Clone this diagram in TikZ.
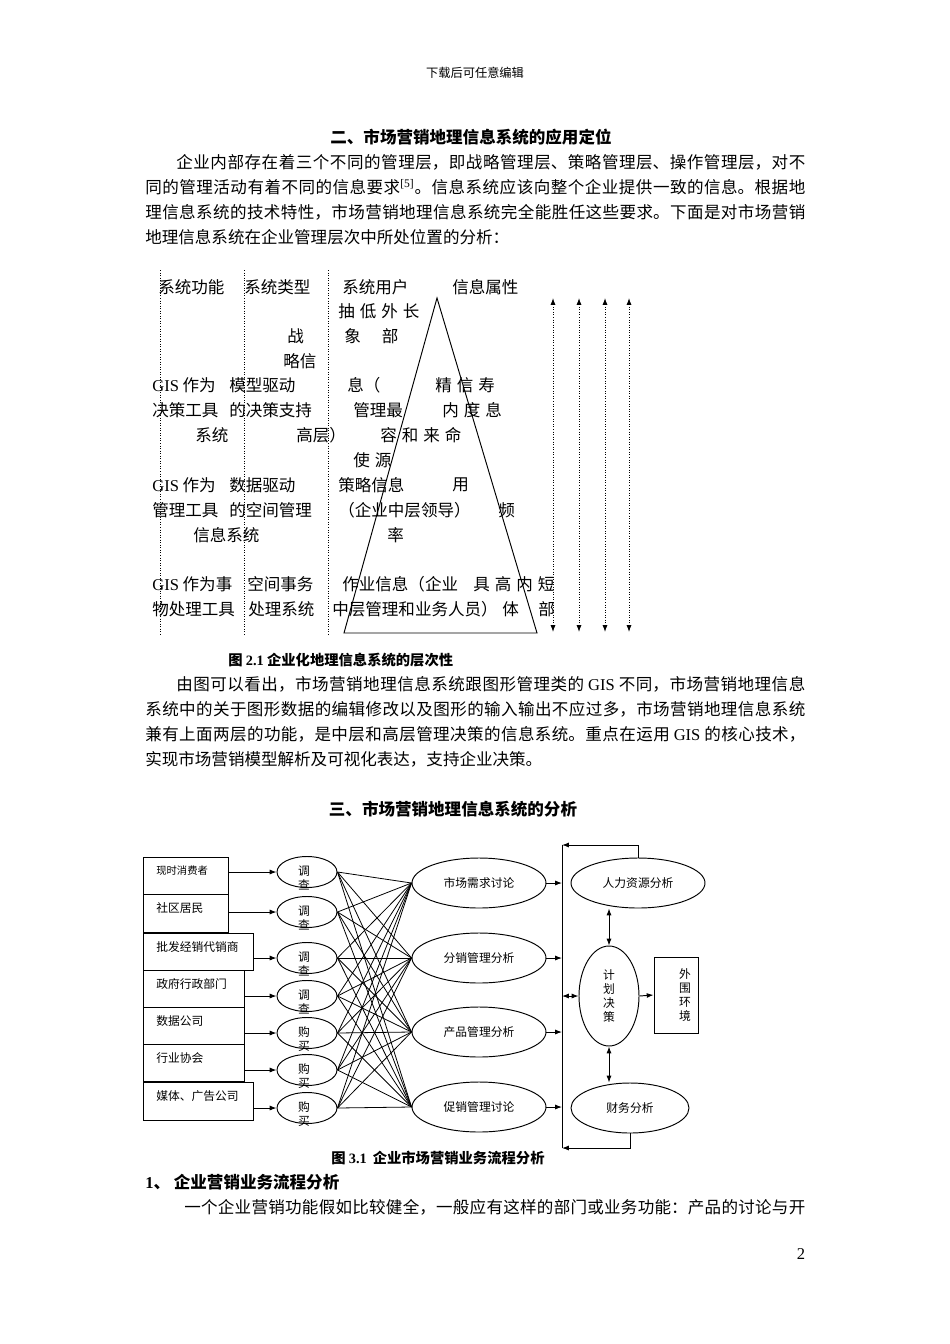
\documentclass[tikz,border=0pt]{standalone}
\usepackage{fontspec}
\setmainfont{Liberation Serif}
\newfontfamily\cjk{Noto Sans CJK SC}
\newfontfamily\lat{Liberation Serif}
\usepackage{tikz}
\usetikzlibrary{arrows.meta, positioning, shapes.geometric}
\XeTeXlinebreaklocale "zh"
\XeTeXlinebreakskip=0pt plus 2pt
\newlength{\px}
\setlength{\px}{0.221mm}
\newcommand{\gp}{\hspace{5\px}}
\tikzset{
    bodytext/.style={font=\cjk\fontsize{10.4}{12.5}\selectfont, inner sep=0pt, anchor=west},
    jline/.style={bodytext, text width=#1, align=justify, execute at begin node={\parindent=0pt\parfillskip=0pt\relax}},
    headtext/.style={font=\cjk\bfseries\fontsize{10.4}{12.5}\selectfont, inner sep=0pt},
    captext/.style={font=\cjk\bfseries\fontsize{9}{11}\selectfont, inner sep=0pt, anchor=west},
    septier/.style={densely dotted, line width=0.6pt},
    spanarrow/.style={{Latex[length=1.5mm,width=1.1mm]}-{Latex[length=1.5mm,width=1.1mm]}, densely dotted, line width=0.6pt},
    flowtext/.style={font=\cjk\fontsize{7.4}{8.8}\selectfont, inner sep=0pt, align=center},
    srcbox/.style={draw, line width=0.6pt, anchor=north west, inner sep=0pt},
    survey/.style={ellipse, draw, line width=0.6pt, minimum width=60\px, minimum height=31\px, inner sep=0pt},
    task/.style={ellipse, draw, line width=0.6pt, minimum width=134\px, minimum height=50\px, inner sep=0pt, flowtext},
    flow/.style={-{Latex[length=1.5mm,width=1.1mm]}, line width=0.6pt},
    flowboth/.style={{Latex[length=1.5mm,width=1.1mm]}-{Latex[length=1.5mm,width=1.1mm]}, line width=0.6pt},
    fanline/.style={line width=0.5pt}
}
\begin{document}
\begin{tikzpicture}[x=0.221mm,y=-0.221mm]
    \useasboundingbox (0,0) rectangle (950,1344);
    \fill[white] (0,0) rectangle (950,1344);

    % page header and first section
    \node[font=\cjk\fontsize{7.7}{9}\selectfont, inner sep=0pt] (hdr) at (475,73) {下载后可任意编辑};
    \node[headtext] (h1) at (471,137) {二、市场营销地理信息系统的应用定位};
    \node[jline=629\px] (a1) at (176,162) {企业内部存在着三个不同的管理层，即战略管理层、策略管理层、操作管理层，对不};
    \node[jline=660\px] (a2) at (145,187) {同的管理活动有着不同的信息要求\textsuperscript{\lat[5]}。信息系统应该向整个企业提供一致的信息。根据地};
    \node[jline=660\px] (a3) at (145,212) {理信息系统的技术特性，市场营销地理信息系统完全能胜任这些要求。下面是对市场营销};
    \node[bodytext] (a4) at (145,237) {地理信息系统在企业管理层次中所处位置的分析：};

    % tiers of the system (fig 2.1)
    \foreach \x in {160,244,328}
        \draw[septier] (\x,270) -- (\x,636);
    \draw[line width=0.6pt] (437,298) -- (344,633) -- (537,633) -- cycle;
    \foreach \x [count=\k] in {553,579,605,629} {
        \coordinate (up\k) at (\x,298);
        \coordinate (dn\k) at (\x,632);
        \draw[spanarrow] (up\k) -- (dn\k);
    }
    \foreach \x/\y/\t [count=\k] in {
        158/287/{系统功能}, 244/287/{系统类型}, 342/287/{系统用户}, 452/287/{信息属性},
        338/311/{抽\gp 低\gp 外\gp 长},
        287/336/{战}, 344/336/{象\hspace{21\px}部},
        283/361/{略信},
        152/385/{{\lat GIS} 作为}, 229/385/{模型驱动}, 347/385/{息（}, 435/385/{精\gp 信\gp 寿},
        152/410/{决策工具}, 229/410/{的决策支持}, 353/410/{管理最}, 442/410/{内\gp 度\gp 息},
        195/435/{系统}, 296/435/{高层）}, 380/435/{容\gp 和\gp 来\gp 命},
        353/460/{使\gp 源},
        152/485/{{\lat GIS} 作为}, 229/485/{数据驱动}, 338/485/{策略信息}, 452/485/{用},
        152/510/{管理工具}, 229/510/{的空间管理}, 338/510/{（企业中层领导）}, 498/510/{频},
        193/535/{信息系统}, 387/535/{率},
        152/584/{{\lat GIS} 作为事}, 247/584/{空间事务}, 342/584/{作业信息（企业}, 473/584/{具\gp 高\gp 内\gp 短},
        152/609/{物处理工具}, 248/609/{处理系统}, 332/609/{中层管理和业务人员）}, 502/609/{体}, 538/609/{部}}
        \node[bodytext] (p\k) at (\x,\y) {\t};
    \node[captext] (c1) at (228,660) {图 {\lat\bfseries 2.1} 企业化地理信息系统的层次性};

    % second paragraph and section
    \node[jline=629\px] (b1) at (176,684) {由图可以看出，市场营销地理信息系统跟图形管理类的 {\lat GIS} 不同，市场营销地理信息};
    \node[jline=660\px] (b2) at (145,709) {系统中的关于图形数据的编辑修改以及图形的输入输出不应过多，市场营销地理信息系统};
    \node[jline=660\px] (b3) at (145,734) {兼有上面两层的功能，是中层和高层管理决策的信息系统。重点在运用 {\lat GIS} 的核心技术，};
    \node[bodytext] (b4) at (145,759) {实现市场营销模型解析及可视化表达，支持企业决策。};
    \node[headtext] (h2) at (453,809) {三、市场营销地理信息系统的分析};

    % marketing flow (fig 3.1)
    \foreach \top/\h/\w/\txt [count=\i] in {857/37/85/{\fontsize{6.5}{8}\selectfont 现时消费者}, 894/38/85/社区居民, 933/37/110/批发经销代销商,
        970/37/101/政府行政部门, 1007/37/101/数据公司, 1044/37/101/行业协会, 1082/38/110/媒体、广告公司} {
        \node[srcbox, minimum width=\w\px, minimum height=\h\px] (src\i) at (143,\top) {};
        \node[flowtext, anchor=west] (srct\i) at ([shift={(13,14)}]src\i.north west) {\txt};
    }
    \foreach \y/\ta/\tb [count=\i] in {872/调/查, 912/调/查, 958/调/查, 996/调/查, 1033/购/买, 1070/购/买, 1108/购/买} {
        \node[survey] (s\i) at (307,\y) {};
        \node[flowtext] (st\i) at ([shift={(-3,6)}]s\i.center) {\ta\\\tb};
        \draw[flow] (s\i.west -| src\i.east) -- (s\i.west);
    }
    \node[task] (m1) at (479,883) {市场需求讨论};
    \node[task] (m2) at (479,958) {分销管理分析};
    \node[task] (m3) at (479,1032) {产品管理分析};
    \node[task] (m4) at (479,1107) {促销管理讨论};
    \foreach \i in {1,...,7}
        \foreach \j in {1,...,4}
            \draw[fanline] (s\i.east) -- (m\j.west);

    \coordinate (bustop) at (562,845);
    \coordinate (busbot) at (562,1148);
    \draw[line width=0.6pt] (bustop) -- (busbot);
    \foreach \j in {1,...,4}
        \draw[flow] (m\j.east) -- (m\j.east -| bustop);

    \node[task] (hr) at (638,883) {人力资源分析};
    \node[task, minimum width=118\px] (fin) at (630,1108) {财务分析};
    \node[task, minimum width=60\px, minimum height=100\px] (plan) at (609,996) {计\\划\\决\\策};
    \node[draw, line width=0.6pt, minimum width=44\px, minimum height=76\px, inner sep=0pt] (env) at (676,995) {};
    \node[flowtext] (envt) at ([shift={(9,0)}]env.center) {外\\围\\环\\境};

    \draw[flow] (hr.north) |- (bustop);
    \draw[flow] (fin.south) |- (busbot);
    \draw[flowboth] (plan.west) -- (plan.west -| bustop);
    \draw[flowboth] (plan.north) -- (plan.north |- hr.south);
    \draw[flowboth] (plan.south) -- (plan.south |- fin.north);
    \draw[flow] (plan.east) -- (env.west);
    \node[captext] (c2) at (331,1158) {图 {\lat\bfseries 3.1}\hspace{6\px}企业市场营销业务流程分析};

    % next section
    \node[headtext, anchor=west] (h3) at (145,1182) {{\lat\bfseries 1}、 企业营销业务流程分析};
    \node[jline=621\px] (d1) at (184,1207) {一个企业营销功能假如比较健全，一般应有这样的部门或业务功能：产品的讨论与开};
    \node[font=\lat\fontsize{10.4}{12}\selectfont, inner sep=0pt] (pg) at (801,1254) {2};
\end{tikzpicture}
\end{document}
